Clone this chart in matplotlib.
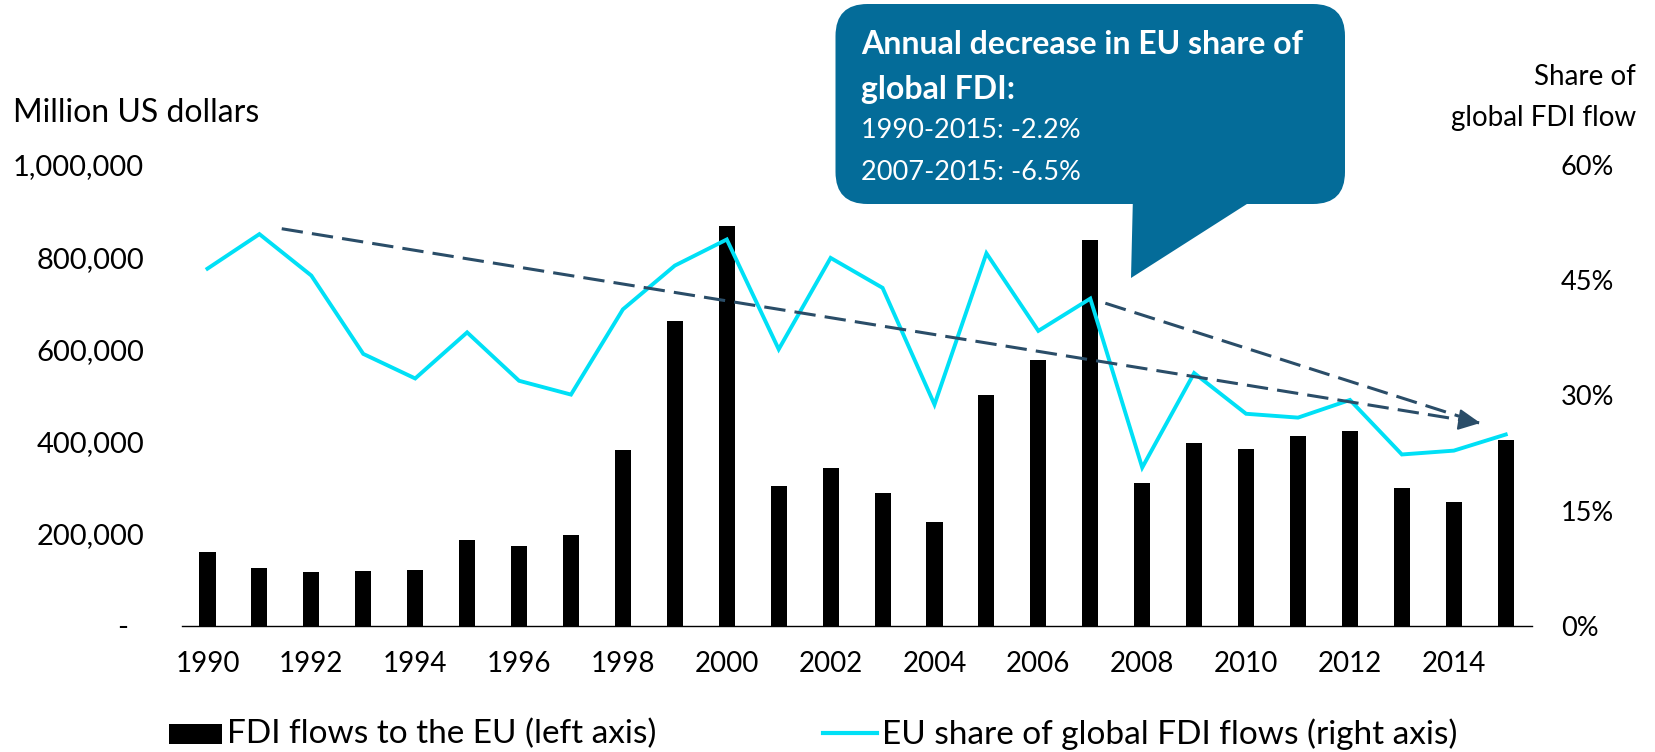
import matplotlib
matplotlib.use('Agg')
import matplotlib.pyplot as plt
from matplotlib.patches import FancyBboxPatch, Polygon, Rectangle
from matplotlib.lines import Line2D
import matplotlib.ticker as mticker

# ---------------- data ----------------
years = list(range(1990, 2016))
fdi_flows = [159000, 126000, 116000, 118000, 121000, 187000, 172000, 196000,
             382000, 661000, 868000, 303000, 343000, 288000, 226000, 501000,
             577000, 837000, 310000, 396000, 383000, 411000, 423000, 298000,
             268000, 403000]
eu_share = [46.5, 51.0, 45.6, 35.4, 32.2, 38.2, 31.9, 30.1, 41.2, 46.9,
            50.3, 36.0, 47.9, 44.0, 28.8, 48.5, 38.4, 42.6, 20.6, 32.9,
            27.6, 27.1, 29.4, 22.3, 22.8, 24.9]
trend_long_x = [1991.43, 2014.51]
trend_long_y = [51.7, 26.4]
trend_short_x = [2007.29, 2014.51]
trend_short_y = [42.0, 26.4]
xtick_years = list(range(1990, 2015, 2))
left_ticks = [0, 200000, 400000, 600000, 800000, 1000000]
right_ticks = [0, 15, 30, 45, 60]
callout_title = ["Annual decrease in EU share of", "global FDI:"]
callout_lines = ["1990-2015: -2.2%", "2007-2015: -6.5%"]
legend_labels = ["FDI flows to the EU (left axis)",
                 "EU share of global FDI flows (right axis)"]

# ---------------- style ----------------
FONT = 'Lato'
plt.rcParams['font.family'] = [FONT, 'DejaVu Sans']
CYAN = '#00E0F6'
DASH = '#2A4D68'
BOX = '#046C99'

W, H = 1655, 752
fig = plt.figure(figsize=(W / 100, H / 100), dpi=100)

x0, x1 = 181.5, 1531.7
y0, y1 = 625.7, 165.0
ax = fig.add_axes([x0 / W, 1 - y0 / H, (x1 - x0) / W, (y0 - y1) / H])
ax.bar(years, fdi_flows, width=0.31, color='black', zorder=2)
ax.set_xlim(1989.5, 2015.5)
ax.set_ylim(0, 1000000)
ax.set_yticks(left_ticks)
ax.yaxis.set_major_formatter(mticker.FuncFormatter(
    lambda v, p: '-  ' if v == 0 else f'{v:,.0f}'))
ax.set_xticks(xtick_years)
ax.set_xticklabels([str(y) for y in xtick_years])
ax.tick_params(axis='y', length=0, pad=27, labelsize=21)
ax.tick_params(axis='x', length=0, pad=18, labelsize=20)
for s in ['top', 'right', 'left']:
    ax.spines[s].set_visible(False)
ax.spines['bottom'].set_linewidth(1.0)
ax.spines['bottom'].set_color('black')

ax2 = ax.twinx()
ax2.set_ylim(0, 60)
ax2.set_yticks(right_ticks)
ax2.yaxis.set_major_formatter(mticker.FuncFormatter(lambda v, p: f'{v:.0f}%'))
ax2.tick_params(axis='y', length=0, pad=21, labelsize=19.5)
for s in ['top', 'right', 'left', 'bottom']:
    ax2.spines[s].set_visible(False)
ax2.plot(years, eu_share, color=CYAN, lw=2.8, zorder=3, solid_joinstyle='miter')
ax2.plot(trend_long_x, trend_long_y, color=DASH, lw=2.2, ls=(0, (7, 3)), zorder=4)
ax2.plot(trend_short_x, trend_short_y, color=DASH, lw=2.2, ls=(0, (7, 3)), zorder=4)
# arrow head at the common end of the trend lines
frac = 0.3 / (trend_long_x[1] - trend_long_x[0])
ax_from = (trend_long_x[1] - (trend_long_x[1] - trend_long_x[0]) * frac,
           trend_long_y[1] - (trend_long_y[1] - trend_long_y[0]) * frac)
ax2.annotate('', xy=(trend_long_x[1], trend_long_y[1]), xytext=ax_from,
             arrowprops=dict(arrowstyle='-|>,head_length=0.45,head_width=0.22',
                             color=DASH, lw=1.5, mutation_scale=30,
                             shrinkA=0, shrinkB=0), zorder=5)

# ---------------- overlay (pixel coordinates) ----------------
ov = fig.add_axes([0, 0, 1, 1], zorder=10)
ov.set_xlim(0, W)
ov.set_ylim(H, 0)
ov.axis('off')
ov.patch.set_alpha(0)

ov.text(12.7, 113, 'Million US dollars', fontsize=23, va='center', ha='left')
ov.text(1636, 77, 'Share of', fontsize=20, va='center', ha='right')
ov.text(1636, 118, 'global FDI flow', fontsize=20, va='center', ha='right')

# callout
ov.add_patch(FancyBboxPatch((835.5, 4), 509.5, 200,
                            boxstyle='round,pad=0,rounding_size=32',
                            fc=BOX, ec='none'))
ov.add_patch(Polygon([(1133, 195), (1131, 278), (1261, 195)], closed=True,
                     fc=BOX, ec='none'))
ov.text(861, 45, callout_title[0], fontsize=23, fontweight='bold', color='white',
        va='center', ha='left')
ov.text(861, 89, callout_title[1], fontsize=23, fontweight='bold', color='white',
        va='center', ha='left')
ov.text(861, 131, callout_lines[0], fontsize=19.5, color='white', va='center', ha='left')
ov.text(861, 173, callout_lines[1], fontsize=19.5, color='white', va='center', ha='left')

# legend
ov.add_patch(Rectangle((169.3, 724), 52.4, 20.3, fc='black', ec='none'))
ov.text(227, 734, legend_labels[0], fontsize=24, va='center', ha='left')
ov.add_line(Line2D([822.7, 876.7], [733.3, 733.3], color=CYAN, lw=3))
ov.text(881.7, 734, legend_labels[1], fontsize=24, va='center', ha='left')

fig.savefig('out.png', dpi=100)
